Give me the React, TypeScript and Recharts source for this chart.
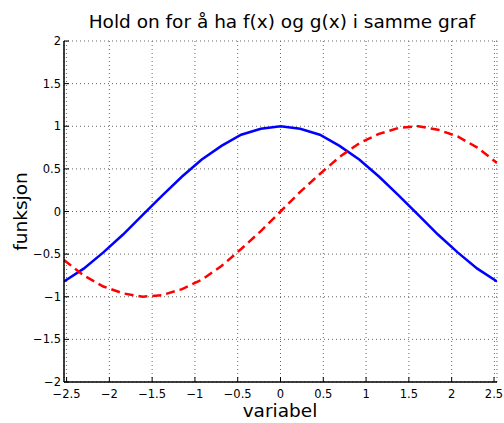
import { LineChart, Line, XAxis, YAxis, CartesianGrid } from 'recharts';

// sample points along the variable axis
const xValues = [
  -2.53, -2.3, -2.07, -1.84, -1.61, -1.38, -1.15, -0.92, -0.69, -0.46, -0.23, 0,
  0.23, 0.46, 0.69, 0.92, 1.15, 1.38, 1.61, 1.84, 2.07, 2.3, 2.53,
];
// f(x), solid blue
const fValues = [
  -0.82, -0.67, -0.48, -0.27, -0.04, 0.19, 0.41, 0.61, 0.77, 0.9, 0.97, 1.0,
  0.97, 0.9, 0.77, 0.61, 0.41, 0.19, -0.04, -0.27, -0.48, -0.67, -0.82,
];
// g(x), dashed red
const gValues = [
  -0.57, -0.75, -0.88, -0.96, -1.0, -0.98, -0.91, -0.8, -0.64, -0.44, -0.23, 0,
  0.23, 0.44, 0.64, 0.8, 0.91, 0.98, 1.0, 0.96, 0.88, 0.75, 0.57,
];
const xTicks = [-2.5, -2, -1.5, -1, -0.5, 0, 0.5, 1, 1.5, 2, 2.5];
const yTicks = [-2, -1.5, -1, -0.5, 0, 0.5, 1, 1.5, 2];

const data = xValues.map((x, i) => ({ x, f: fValues[i], g: gValues[i] }));

const W = 504;
const H = 423;
const FONT = '"DejaVu Sans", sans-serif';
const fmt = (v: number) => String(v).replace('-', '\u2212');

const BottomTick = ({ x, y, payload }: any) => (
  <g>
    <line x1={x} y1={y} x2={x} y2={y - 5} stroke="#000" />
    <text x={x} y={y + 16} textAnchor="middle" fontSize={11.5} fontFamily={FONT} fill="#000">
      {fmt(payload.value)}
    </text>
  </g>
);

const LeftTick = ({ x, y, payload }: any) => (
  <g>
    <line x1={x} y1={y} x2={x + 5} y2={y} stroke="#000" />
    <text x={x - 3} y={y + 4} textAnchor="end" fontSize={11.5} fontFamily={FONT} fill="#000">
      {fmt(payload.value)}
    </text>
  </g>
);

const TopTick = ({ x, y }: any) => <line x1={x} y1={y} x2={x} y2={y + 5} stroke="#000" />;
const RightTick = ({ x, y }: any) => <line x1={x} y1={y} x2={x - 5} y2={y} stroke="#000" />;

export default function App() {
  const axisLine = { stroke: '#000', strokeWidth: 1.5 };
  return (
    <div style={{ position: 'relative', width: W, height: H }}>
      <style>{'html,body{margin:0;overflow:hidden}'}</style>
      <LineChart width={W} height={H} data={data} margin={{ top: 41, right: 7, bottom: 0, left: 0 }}>
        <CartesianGrid stroke="#666" strokeDasharray="1 3" />
        <XAxis
          dataKey="x"
          type="number"
          domain={[-2.53, 2.53]}
          ticks={xTicks}
          allowDataOverflow
          height={41}
          tickSize={0}
          tickMargin={0}
          axisLine={axisLine}
          tickLine={false}
          tick={BottomTick}
        />
        <XAxis
          xAxisId="top"
          orientation="top"
          dataKey="x"
          type="number"
          domain={[-2.53, 2.53]}
          ticks={xTicks}
          allowDataOverflow
          height={0}
          tickSize={0}
          tickMargin={0}
          axisLine={axisLine}
          tickLine={false}
          tick={TopTick}
        />
        <YAxis
          type="number"
          domain={[-2, 2]}
          ticks={yTicks}
          allowDataOverflow
          width={64}
          tickSize={0}
          tickMargin={0}
          axisLine={axisLine}
          tickLine={false}
          tick={LeftTick}
        />
        <YAxis
          yAxisId="right"
          orientation="right"
          type="number"
          domain={[-2, 2]}
          ticks={yTicks}
          allowDataOverflow
          width={0}
          tickSize={0}
          tickMargin={0}
          axisLine={axisLine}
          tickLine={false}
          tick={RightTick}
        />
        <Line type="linear" dataKey="f" stroke="#0000ff" strokeWidth={2.5} dot={false} isAnimationActive={false} />
        <Line
          type="linear"
          dataKey="g"
          stroke="#ff0000"
          strokeWidth={2.5}
          strokeDasharray="9 5"
          dot={false}
          isAnimationActive={false}
        />
      </LineChart>
      <svg width={W} height={H} style={{ position: 'absolute', left: 0, top: 0, pointerEvents: 'none' }}>
        <text x={282} y={28} textAnchor="middle" fontSize={18.5} fontFamily={FONT} fill="#000">
          Hold on for å ha f(x) og g(x) i samme graf
        </text>
        <text x={280} y={417} textAnchor="middle" fontSize={18.5} fontFamily={FONT} fill="#000">
          variabel
        </text>
        <text
          x={27}
          y={211.5}
          transform="rotate(-90, 27, 211.5)"
          textAnchor="middle"
          fontSize={18.5}
          fontFamily={FONT}
          fill="#000"
        >
          funksjon
        </text>
      </svg>
    </div>
  );
}
